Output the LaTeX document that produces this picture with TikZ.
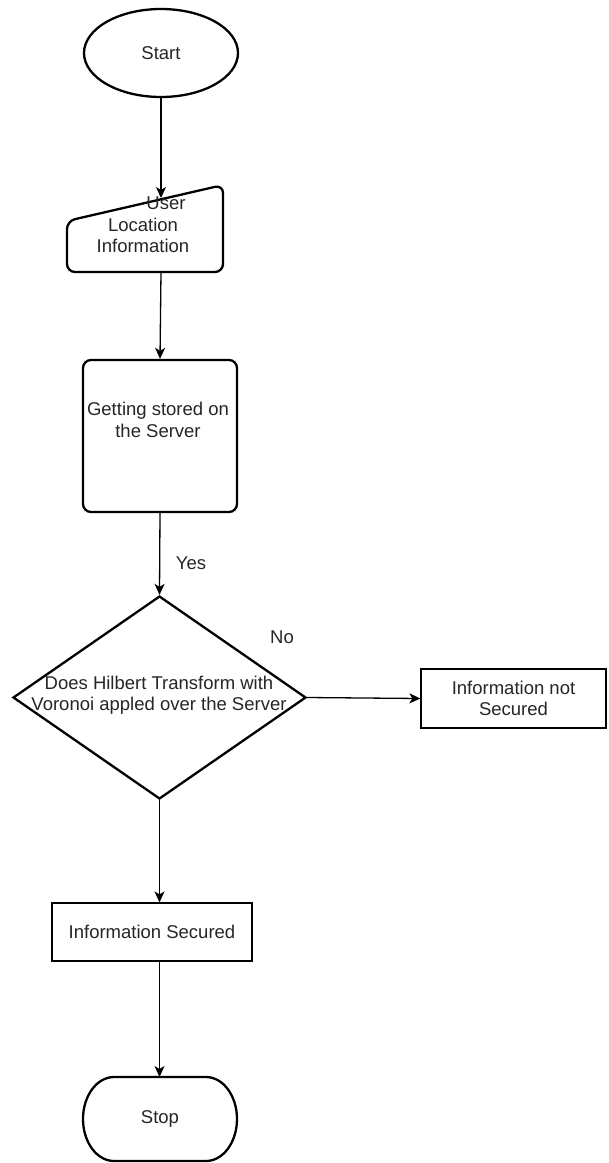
\documentclass[tikz,border=0pt]{standalone}
\usepackage{fontspec}
\setmainfont{Liberation Sans}
\usetikzlibrary{shapes.geometric,arrows.meta}
\begin{document}
\begin{tikzpicture}[x=1pt,y=-1pt,
  txt/.style={font=\fontsize{18.5}{21.5}\selectfont, text=black!85, align=center, inner sep=0pt},
  thick2/.style={draw=black, line width=2.3pt},
  plainbox/.style={draw=black, line width=1.2pt, rectangle, inner sep=0pt},
  arr/.style={draw=black, line width=1.3pt, -{Stealth[length=11pt,width=10pt,inset=3pt]}}
]
\useasboundingbox[fill=white] (0,0) rectangle (609,1163);

% Start
\node[thick2, ellipse, minimum width=154pt, minimum height=88pt, inner sep=0pt, txt] (start) at (161,53) {Start};

% Manual input
\draw[thick2, rounded corners=8pt] (67,221) -- (223,185) -- (223,272) -- (67,272) -- cycle;
\coordinate (intop) at (161,198);
\coordinate (inbot) at (161,272);
\node[txt] (intext) at (143,225) {\hspace*{46pt}User\\Location\\Information};

% Stored box
\node[thick2, rectangle, rounded corners=8pt, minimum width=154pt, minimum height=152pt, inner sep=0pt] (stored) at (160,436) {};
\node[txt] (storedtxt) at (158,420) {Getting stored on\\the Server};

% Decision
\node[thick2, diamond, minimum width=293pt, minimum height=203pt, inner sep=0pt] (dec) at (159.5,697.5) {};
\node[txt] (dectxt) at (159,695) {Does Hilbert Transform with\\Voronoi appled over the Server};
\node[txt] (yes) at (191,563) {Yes};
\node[txt] (no) at (282,637) {No};

% Not secured
\node[plainbox, minimum width=185pt, minimum height=59pt, txt, draw=black] (notsec) at (513.5,698.5) {Information not\\Secured};

% Secured
\node[plainbox, minimum width=200pt, minimum height=58pt, txt, draw=black] (sec) at (152,932) {Information Secured};

% Stop
\draw[thick2] (114,1077) -- (206,1077) arc[start angle=90, end angle=-90, x radius=31pt, y radius=42pt] -- (114,1161) arc[start angle=270, end angle=90, x radius=31pt, y radius=42pt] -- cycle;
\coordinate (stoptop) at (160,1077);
\node[txt] (stop) at (160,1119) {Stop};

% Connectors
\draw[arr] (start.south) -- (intop);
\draw[arr] (inbot) -- (stored.north);
\draw[arr] (stored.south) -- (dec.north);
\draw[arr] (dec.east) -- (notsec.west);
\draw[arr] (dec.south) -- (sec.north -| dec.south);
\draw[arr] (sec.south -| dec.south) -- (stoptop -| dec.south);
\end{tikzpicture}
\end{document}
